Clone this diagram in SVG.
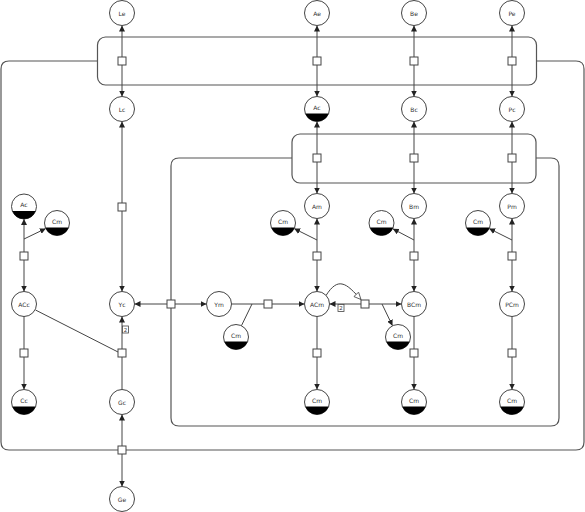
<svg xmlns="http://www.w3.org/2000/svg" width="585" height="512" viewBox="0 0 585 512">
<style>
.comp{fill:none;stroke:#555;stroke-width:1.2}
.cbox{fill:#fff;stroke:#555;stroke-width:1.2}
.n circle{fill:#fff;stroke:#444;stroke-width:1}
.n text{font-family:"DejaVu Sans",sans-serif;font-size:6px;fill:#333;text-anchor:middle;dominant-baseline:central}
.cl{fill:#000}
.p{fill:#fff;stroke:#444;stroke-width:1}
.e line,.e path{stroke:#444;stroke-width:1;fill:none}
.a{marker-end:url(#arr)}
.st rect{fill:#fff;stroke:#444;stroke-width:0.8}
.st text{font-family:"DejaVu Sans",sans-serif;font-size:5.5px;fill:#333;text-anchor:middle;dominant-baseline:central}
</style>
<defs>
<marker id="arr" markerUnits="userSpaceOnUse" markerWidth="7" markerHeight="6" refX="6" refY="3" orient="auto"><path d="M0,0 L6,3 L0,6 z" fill="#222"/></marker>
<marker id="oarr" markerUnits="userSpaceOnUse" markerWidth="9" markerHeight="8" refX="7.5" refY="4" orient="auto"><path d="M0.5,0.8 L7.5,4 L0.5,7.2 z" fill="#fff" stroke="#444" stroke-width="0.8"/></marker>
</defs>

<g id="compartments">
<path class="comp" d="M97,61 L9,61 Q1,61 1,69 L1,442 Q1,450 9,450 L576,450 Q584,450 584,442 L584,69 Q584,61 576,61 L536,61"/>
<rect class="cbox" x="97.5" y="37" width="439" height="48" rx="8"/>
<path class="comp" d="M292,158 L179,158 Q171,158 171,166 L171,418 Q171,426 179,426 L551,426 Q559,426 559,418 L559,166 Q559,158 551,158 L536,158"/>
<rect class="cbox" x="292" y="134" width="244" height="49" rx="8"/>
</g>

<g id="connectors" class="e">
<line class="a" x1="122" y1="57" x2="122" y2="25.5"/>
<line class="a" x1="122" y1="65" x2="122" y2="96.5"/>
<line class="a" x1="317" y1="57" x2="317" y2="25.5"/>
<line class="a" x1="317" y1="65" x2="317" y2="96.5"/>
<line class="a" x1="414" y1="57" x2="414" y2="25.5"/>
<line class="a" x1="414" y1="65" x2="414" y2="96.5"/>
<line class="a" x1="512" y1="57" x2="512" y2="25.5"/>
<line class="a" x1="512" y1="65" x2="512" y2="96.5"/>
<line class="a" x1="317" y1="154" x2="317" y2="121.5"/>
<line class="a" x1="317" y1="162" x2="317" y2="193.5"/>
<line class="a" x1="414" y1="154" x2="414" y2="121.5"/>
<line class="a" x1="414" y1="162" x2="414" y2="193.5"/>
<line class="a" x1="512" y1="154" x2="512" y2="121.5"/>
<line class="a" x1="512" y1="162" x2="512" y2="193.5"/>
<line class="a" x1="122" y1="203" x2="122" y2="121.5"/>
<line class="a" x1="122" y1="211" x2="122" y2="291.5"/>
<line class="a" x1="24" y1="252" x2="24" y2="219"/>
<line class="a" x1="24" y1="260" x2="24" y2="291.5"/>
<line class="a" x1="24" y1="239" x2="45.8" y2="228.5"/>
<line x1="24" y1="316.5" x2="24" y2="349"/>
<line class="a" x1="24" y1="357" x2="24" y2="389.5"/>
<line x1="122" y1="389.5" x2="122" y2="357"/>
<line class="a" x1="122" y1="349" x2="122" y2="316.5"/>
<line x1="35.5" y1="310" x2="118" y2="352"/>
<line class="a" x1="122" y1="446" x2="122" y2="414.5"/>
<line class="a" x1="122" y1="454" x2="122" y2="486.5"/>
<line class="a" x1="167" y1="304" x2="134.5" y2="304"/>
<line class="a" x1="175" y1="304" x2="206.5" y2="304"/>
<line x1="231.5" y1="304" x2="264" y2="304"/>
<line x1="241.4" y1="325.8" x2="252" y2="304"/>
<line class="a" x1="272" y1="304" x2="304.5" y2="304"/>
<line class="a" x1="361" y1="304" x2="329.5" y2="304"/>
<line class="a" x1="369" y1="304" x2="401.5" y2="304"/>
<line class="a" x1="382" y1="304" x2="392.5" y2="325.8"/>
<path d="M326,295.5 C332,286 337,283 342,284 C348,285 354,292 361,299.5" marker-end="url(#oarr)"/>
<line class="a" x1="317" y1="252" x2="317" y2="218.5"/>
<line class="a" x1="317" y1="260" x2="317" y2="291.5"/>
<line class="a" x1="317" y1="240" x2="294.2" y2="228.6"/>
<line class="a" x1="414" y1="252" x2="414" y2="218.5"/>
<line class="a" x1="414" y1="260" x2="414" y2="291.5"/>
<line class="a" x1="414" y1="240" x2="392.8" y2="228.8"/>
<line class="a" x1="512" y1="252" x2="512" y2="218.5"/>
<line class="a" x1="512" y1="260" x2="512" y2="291.5"/>
<line class="a" x1="512" y1="240" x2="489.2" y2="228.6"/>
<line x1="317" y1="316.5" x2="317" y2="349"/>
<line class="a" x1="317" y1="357" x2="317" y2="389.5"/>
<line x1="414" y1="316.5" x2="414" y2="349"/>
<line class="a" x1="414" y1="357" x2="414" y2="389.5"/>
<line x1="512" y1="316.5" x2="512" y2="349"/>
<line class="a" x1="512" y1="357" x2="512" y2="389.5"/>
</g>

<g id="stoichiometry" class="st">
<rect x="122.5" y="326" width="6" height="7"/><text x="125.5" y="329.5">2</text>
<rect x="338" y="304.5" width="6" height="7"/><text x="341" y="308">2</text>
</g>

<g id="processes">
<rect class="p" x="118" y="57" width="8" height="8"/>
<rect class="p" x="313" y="57" width="8" height="8"/>
<rect class="p" x="410" y="57" width="8" height="8"/>
<rect class="p" x="508" y="57" width="8" height="8"/>
<rect class="p" x="313" y="154" width="8" height="8"/>
<rect class="p" x="410" y="154" width="8" height="8"/>
<rect class="p" x="508" y="154" width="8" height="8"/>
<rect class="p" x="118" y="203" width="8" height="8"/>
<rect class="p" x="20" y="252" width="8" height="8"/>
<rect class="p" x="20" y="349" width="8" height="8"/>
<rect class="p" x="118" y="349" width="8" height="8"/>
<rect class="p" x="118" y="446" width="8" height="8"/>
<rect class="p" x="167" y="300" width="8" height="8"/>
<rect class="p" x="264" y="300" width="8" height="8"/>
<rect class="p" x="361" y="300" width="8" height="8"/>
<rect class="p" x="313" y="252" width="8" height="8"/>
<rect class="p" x="410" y="252" width="8" height="8"/>
<rect class="p" x="508" y="252" width="8" height="8"/>
<rect class="p" x="313" y="349" width="8" height="8"/>
<rect class="p" x="410" y="349" width="8" height="8"/>
<rect class="p" x="508" y="349" width="8" height="8"/>
</g>

<g id="Le" class="n"><circle cx="122" cy="13" r="12.5"/><text x="122" y="13">Le</text></g>
<g id="Ae" class="n"><circle cx="317" cy="13" r="12.5"/><text x="317" y="13">Ae</text></g>
<g id="Be" class="n"><circle cx="414" cy="13" r="12.5"/><text x="414" y="13">Be</text></g>
<g id="Pe" class="n"><circle cx="512" cy="13" r="12.5"/><text x="512" y="13">Pe</text></g>
<g id="Lc" class="n"><circle cx="122" cy="109" r="12.5"/><text x="122" y="109">Lc</text></g>
<g id="Ac" class="n"><circle cx="317" cy="109" r="12.5"/><path class="cl" d="M305.34,113.5 A12.5,12.5 0 0 0 328.66,113.5 Z"/><text x="317" y="107">Ac</text></g>
<g id="Bc" class="n"><circle cx="414" cy="109" r="12.5"/><text x="414" y="109">Bc</text></g>
<g id="Pc" class="n"><circle cx="512" cy="109" r="12.5"/><text x="512" y="109">Pc</text></g>
<g id="Am" class="n"><circle cx="317" cy="206" r="12.5"/><text x="317" y="206">Am</text></g>
<g id="Bm" class="n"><circle cx="414" cy="206" r="12.5"/><text x="414" y="206">Bm</text></g>
<g id="Pm" class="n"><circle cx="512" cy="206" r="12.5"/><text x="512" y="206">Pm</text></g>
<g id="Cm_A" class="n"><circle cx="283" cy="223" r="12.5"/><path class="cl" d="M271.34,227.5 A12.5,12.5 0 0 0 294.66,227.5 Z"/><text x="283" y="221">Cm</text></g>
<g id="Cm_B" class="n"><circle cx="381.5" cy="223" r="12.5"/><path class="cl" d="M369.84,227.5 A12.5,12.5 0 0 0 393.16,227.5 Z"/><text x="381.5" y="221">Cm</text></g>
<g id="Cm_P" class="n"><circle cx="478" cy="223" r="12.5"/><path class="cl" d="M466.34,227.5 A12.5,12.5 0 0 0 489.66,227.5 Z"/><text x="478" y="221">Cm</text></g>
<g id="Ac_left" class="n"><circle cx="24" cy="206.5" r="12.5"/><path class="cl" d="M12.34,211 A12.5,12.5 0 0 0 35.66,211 Z"/><text x="24" y="204.5">Ac</text></g>
<g id="Cc_left_Cm" class="n"><circle cx="57" cy="223" r="12.5"/><path class="cl" d="M45.34,227.5 A12.5,12.5 0 0 0 68.66,227.5 Z"/><text x="57" y="221">Cm</text></g>
<g id="ACc" class="n"><circle cx="24" cy="304" r="12.5"/><text x="24" y="304">ACc</text></g>
<g id="Yc" class="n"><circle cx="122" cy="304" r="12.5"/><text x="122" y="304">Yc</text></g>
<g id="Ym" class="n"><circle cx="219" cy="304" r="12.5"/><text x="219" y="304">Ym</text></g>
<g id="Cm_Y" class="n"><circle cx="236" cy="337" r="12.5"/><path class="cl" d="M224.34,341.5 A12.5,12.5 0 0 0 247.66,341.5 Z"/><text x="236" y="335">Cm</text></g>
<g id="ACm" class="n"><circle cx="317" cy="304" r="12.5"/><text x="317" y="304">ACm</text></g>
<g id="BCm" class="n"><circle cx="414" cy="304" r="12.5"/><text x="414" y="304">BCm</text></g>
<g id="PCm" class="n"><circle cx="512" cy="304" r="12.5"/><text x="512" y="304">PCm</text></g>
<g id="Cm_BC" class="n"><circle cx="398" cy="337" r="12.5"/><path class="cl" d="M386.34,341.5 A12.5,12.5 0 0 0 409.66,341.5 Z"/><text x="398" y="335">Cm</text></g>
<g id="Cc" class="n"><circle cx="24" cy="402" r="12.5"/><path class="cl" d="M12.34,406.5 A12.5,12.5 0 0 0 35.66,406.5 Z"/><text x="24" y="400">Cc</text></g>
<g id="Gc" class="n"><circle cx="122" cy="402" r="12.5"/><text x="122" y="402">Gc</text></g>
<g id="Cm_1" class="n"><circle cx="317" cy="402" r="12.5"/><path class="cl" d="M305.34,406.5 A12.5,12.5 0 0 0 328.66,406.5 Z"/><text x="317" y="400">Cm</text></g>
<g id="Cm_2" class="n"><circle cx="414" cy="402" r="12.5"/><path class="cl" d="M402.34,406.5 A12.5,12.5 0 0 0 425.66,406.5 Z"/><text x="414" y="400">Cm</text></g>
<g id="Cm_3" class="n"><circle cx="512" cy="402" r="12.5"/><path class="cl" d="M500.34,406.5 A12.5,12.5 0 0 0 523.66,406.5 Z"/><text x="512" y="400">Cm</text></g>
<g id="Ge" class="n"><circle cx="122" cy="499" r="12.5"/><text x="122" y="499">Ge</text></g>
</svg>
